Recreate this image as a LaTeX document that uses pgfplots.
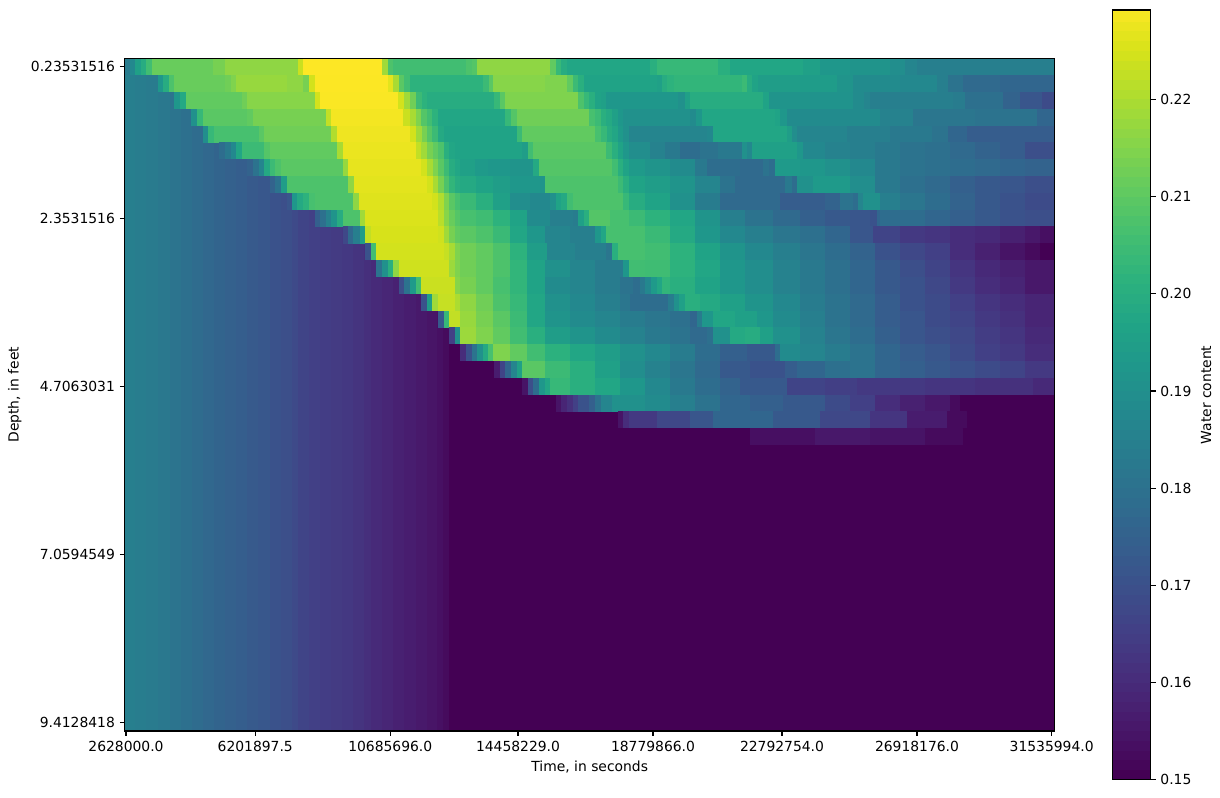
\documentclass[border=0pt]{standalone}
\usepackage{fontspec}
\setmainfont{DejaVu Sans}
\usepackage{pgfplots}
\pgfplotsset{compat=1.18}
% one thick mesh line per depth row: x (left edge of run), water content
\pgfplotsset{
  cell/.style={mesh, shader=flat corner, point meta=explicit, line width=12.3pt, line cap=butt, no markers, forget plot},
  common/.style={
    scale only axis, tick align=outside, major tick length=3.5pt,
    tick style={black, line width=0.8pt},
    axis line style={line width=0.8pt},
    axis on top,
    every tick label/.append style={font=\fontsize{10}{12}\selectfont},
    label style={font=\fontsize{10}{12}\selectfont},
    /pgf/number format/assume math mode=true,
    colormap/viridis,
    point meta min=0.15, point meta max=0.2292,
  },
}
\begin{document}
\begin{tikzpicture}
\path[use as bounding box] (-89.78pt,-48.2pt) rectangle (788.62pt,526.36pt);
\begin{axis}[
  common,
  at={(0pt,0pt)}, anchor=south west,
  width=669.6pt, height=484.3pt,
  xmin=124.7, xmax=1054.7, ymin=-39.5, ymax=0.5,
  xtick={126,255.3,390.3,518,653,782,917,1051.7},
  xticklabels={2628000.0,6201897.5,10685696.0,14458229.0,18779866.0,22792754.0,26918176.0,31535994.0},
  ytick={-39,-29,-19,-9,0},
  yticklabels={9.4128418,7.0594549,4.7063031,2.3531516,0.23531516},
  xlabel={Time, in seconds}, ylabel={Depth, in feet},
  xtick pos=bottom, ytick pos=left,
  table/meta index=1, table/header=false,
]
% rows 1 to 39 share this profile left of the wetting front
\addplot[cell, line width=472.4pt] table[y expr=-20]{
124.7 0.1838
135 0.1832
146 0.1825
158 0.1815
170 0.1803
181 0.1790
192 0.1778
203 0.1765
214 0.1752
225 0.1743
236 0.1733
247 0.1722
258 0.1712
270 0.1700
281 0.1690
292 0.1675
298 0.1660
309 0.1650
320 0.1642
331 0.1635
342 0.1628
353 0.1618
364 0.1605
371 0.1592
382 0.1582
393 0.1572
404 0.1562
416 0.1552
427 0.1542
437 0.1532
443 0.1520
449 0.1500
1054.7 0.1500
};
% row 0
\addplot[cell] table[y expr=0]{
124.7 0.183
129.7 0.187
135 0.195
140.7 0.199
146 0.205
152 0.211
213 0.213
225 0.216
298 0.223
303 0.2292
382 0.218
388 0.207
393 0.205
466 0.207
472 0.208
477 0.216
550 0.210
556 0.203
561 0.199
567 0.197
650 0.200
657 0.203
718 0.200
730 0.197
803 0.195
820 0.192
850 0.191
890 0.189
905 0.186
917 0.184
1054.7 0.184
};
% row 1
\addplot[cell] table[y expr=-1]{
158 0.192
163 0.199
169 0.207
174 0.211
225 0.212
231 0.214
236 0.217
287 0.216
303 0.213
309 0.224
315 0.229
388 0.226
393 0.219
399 0.209
404 0.205
410 0.201
483 0.204
489 0.209
493 0.215
545 0.214
567 0.210
573 0.204
578 0.200
584 0.196
657 0.195
662 0.199
667 0.201
674 0.202
742 0.204
747 0.199
752 0.196
758 0.194
800 0.1935
837 0.191
853 0.188
900 0.187
937 0.184
948 0.180
963 0.177
1000 0.176
1054.7 0.176
};
% row 2
\addplot[cell] table[y expr=-2]{
174 0.192
180 0.198
186 0.210
242 0.212
247 0.215
315 0.224
320 0.2288
398 0.224
404 0.218
410 0.212
416 0.204
422 0.201
427 0.199
494 0.203
500 0.209
505 0.214
578 0.207
584 0.203
589 0.200
595 0.196
601 0.195
606 0.192
678 0.190
685 0.195
690 0.199
763 0.196
769 0.191
810 0.1905
853 0.188
864 0.186
870 0.184
953 0.183
965 0.179
1003 0.175
1020 0.171
1042 0.168
1054.7 0.168
};
% row 3
\addplot[cell] table[y expr=-3]{
191 0.190
197 0.203
203 0.209
247 0.210
253 0.213
326 0.222
331 0.228
403 0.223
410 0.219
416 0.214
421 0.208
427 0.205
432 0.201
438 0.197
505 0.203
511 0.208
517 0.212
589 0.206
595 0.204
601 0.200
606 0.198
612 0.195
618 0.192
623 0.190
690 0.188
696 0.192
702 0.197
775 0.196
780 0.192
787 0.188
880 0.185
913 0.181
975 0.180
1037 0.176
1054.7 0.176
};
% row 4
\addplot[cell] table[y expr=-4]{
203 0.189
208 0.203
214 0.206
259 0.209
264 0.212
331 0.220
337 0.2275
410 0.224
416 0.218
422 0.213
427 0.208
432 0.204
438 0.198
444 0.196
517 0.204
522 0.210
595 0.206
601 0.203
607 0.199
612 0.197
618 0.193
623 0.190
629 0.186
707 0.187
713 0.197
787 0.194
792 0.189
797 0.186
847 0.184
890 0.182
932 0.180
948 0.176
967 0.173
1054.7 0.173
};
% row 5
\addplot[cell] table[y expr=-5]{
219 0.178
225 0.182
231 0.187
236 0.197
242 0.204
264 0.208
270 0.210
337 0.219
343 0.227
416 0.222
421 0.218
427 0.213
433 0.210
438 0.207
444 0.200
449 0.197
455 0.196
522 0.194
528 0.205
533 0.209
606 0.204
612 0.200
618 0.196
623 0.192
629 0.189
650 0.185
665 0.182
680 0.178
700 0.180
718 0.182
742 0.190
747 0.187
752 0.195
797 0.192
803 0.187
825 0.185
850 0.184
875 0.182
900 0.180
925 0.179
950 0.177
975 0.175
1000 0.173
1025 0.169
1054.7 0.169
};
% row 6
\addplot[cell] table[y expr=-6]{
247 0.175
253 0.180
259 0.186
264 0.198
270 0.204
275 0.207
281 0.209
343 0.217
348 0.2265
421 0.224
427 0.219
433 0.214
438 0.209
444 0.204
449 0.199
455 0.197
460 0.195
475 0.193
488 0.192
510 0.191
533 0.198
539 0.208
612 0.205
618 0.200
623 0.196
629 0.193
645 0.191
670 0.188
695 0.182
707 0.178
740 0.177
763 0.180
769 0.178
775 0.193
800 0.192
825 0.190
850 0.187
875 0.182
900 0.180
925 0.179
950 0.178
975 0.177
1000 0.176
1025 0.175
1054.7 0.175
};
% row 7
\addplot[cell] table[y expr=-7]{
270 0.175
275 0.180
281 0.194
287 0.207
348 0.216
354 0.226
427 0.224
433 0.219
438 0.213
444 0.207
449 0.202
455 0.199
460 0.198
476 0.196
493 0.194
510 0.192
540 0.191
545 0.207
618 0.204
623 0.200
629 0.196
645 0.194
670 0.191
695 0.186
720 0.180
735 0.177
785 0.182
792 0.178
797 0.190
813 0.193
850 0.189
875 0.182
900 0.179
925 0.177
950 0.174
975 0.172
1000 0.171
1025 0.169
1054.7 0.169
};
% row 8
\addplot[cell] table[y expr=-8]{
287 0.171
292 0.192
297 0.198
303 0.201
309 0.206
315 0.207
353 0.216
359 0.2255
432 0.224
438 0.220
444 0.214
449 0.209
455 0.206
460 0.2035
476 0.200
493 0.195
510 0.189
530 0.187
550 0.190
556 0.196
561 0.198
567 0.205
573 0.207
623 0.203
629 0.199
645 0.196
670 0.190
695 0.183
720 0.177
780 0.173
825 0.175
840 0.180
853 0.178
858 0.186
863 0.190
880 0.184
900 0.181
925 0.178
950 0.175
975 0.172
1000 0.170
1025 0.168
1054.7 0.168
};
% row 9
\addplot[cell] table[y expr=-9]{
315 0.174
320 0.179
326 0.185
331 0.191
337 0.199
343 0.207
360 0.218
365 0.225
438 0.221
444 0.215
449 0.211
455 0.208
460 0.206
476 0.2045
493 0.201
510 0.196
527 0.188
550 0.184
573 0.183
578 0.195
584 0.200
589 0.208
610 0.206
629 0.204
645 0.201
670 0.197
695 0.191
720 0.184
745 0.180
773 0.177
800 0.174
825 0.172
850 0.171
870 0.170
877 0.176
880 0.178
925 0.176
950 0.174
975 0.172
1000 0.170
1025 0.169
1054.7 0.169
};
% row 10
\addplot[cell] table[y expr=-10]{
343 0.167
348 0.177
353 0.184
360 0.194
365 0.222
371 0.2245
438 0.2235
444 0.218
449 0.213
455 0.210
460 0.209
476 0.207
493 0.2035
510 0.197
527 0.192
545 0.186
570 0.184
595 0.192
601 0.197
606 0.206
645 0.2035
670 0.198
695 0.192
720 0.187
745 0.184
773 0.181
800 0.179
825 0.176
850 0.171
873 0.166
900 0.163
925 0.162
950 0.160
975 0.159
1000 0.157
1025 0.155
1040 0.153
1054.7 0.153
};
% row 11
\addplot[cell] table[y expr=-11]{
365 0.170
371 0.205
376 0.224
444 0.2225
449 0.219
455 0.214
460 0.212
476 0.210
493 0.207
510 0.201
527 0.194
547 0.186
575 0.184
606 0.181
612 0.200
618 0.206
645 0.205
670 0.201
695 0.196
720 0.191
745 0.187
773 0.184
800 0.181
825 0.178
850 0.175
875 0.170
900 0.167
925 0.165
950 0.160
975 0.157
1000 0.154
1025 0.152
1040 0.150
1054.7 0.150
};
% row 12
\addplot[cell] table[y expr=-12]{
376 0.180
382 0.190
388 0.200
393 0.216
399 0.2235
449 0.2175
455 0.214
460 0.212
476 0.210
493 0.207
510 0.202
527 0.196
545 0.190
570 0.186
595 0.183
623 0.192
629 0.205
645 0.2045
670 0.201
695 0.197
720 0.192
745 0.189
773 0.185
800 0.182
825 0.179
850 0.176
875 0.172
900 0.169
925 0.166
950 0.162
975 0.159
1000 0.157
1025 0.155
1054.7 0.155
};
% row 13
\addplot[cell] table[y expr=-13]{
399 0.169
404 0.180
410 0.193
416 0.205
421 0.223
455 0.215
460 0.213
476 0.210
493 0.206
510 0.202
527 0.196
545 0.188
570 0.186
595 0.183
620 0.180
633 0.178
640 0.182
645 0.187
651 0.193
657 0.197
662 0.202
670 0.200
695 0.196
720 0.192
745 0.189
773 0.185
800 0.182
825 0.179
850 0.176
875 0.172
900 0.170
925 0.167
950 0.163
975 0.160
1000 0.158
1025 0.155
1054.7 0.155
};
% row 14
\addplot[cell] table[y expr=-14]{
421 0.170
427 0.194
432 0.218
438 0.2225
455 0.2195
460 0.216
476 0.212
493 0.207
510 0.203
527 0.197
545 0.190
570 0.187
595 0.184
620 0.181
630 0.178
650 0.178
668 0.183
674 0.190
679 0.195
685 0.200
700 0.198
720 0.195
745 0.191
773 0.187
800 0.183
825 0.180
850 0.177
875 0.173
900 0.170
925 0.168
950 0.165
975 0.162
1000 0.160
1025 0.158
1054.7 0.158
};
% row 15
\addplot[cell] table[y expr=-15]{
438 0.172
444 0.203
449 0.222
460 0.217
476 0.213
493 0.209
510 0.204
527 0.197
545 0.191
570 0.188
595 0.186
620 0.183
645 0.181
670 0.179
690 0.176
697 0.183
702 0.192
713 0.197
735 0.195
757 0.192
773 0.188
800 0.184
825 0.180
850 0.177
875 0.173
900 0.171
925 0.168
950 0.166
975 0.163
1000 0.161
1025 0.158
1054.7 0.158
};
% row 16
\addplot[cell] table[y expr=-16]{
449 0.165
455 0.190
460 0.2175
476 0.214
493 0.210
510 0.205
527 0.200
545 0.194
570 0.191
595 0.188
620 0.185
645 0.182
670 0.180
690 0.177
707 0.179
713 0.190
730 0.198
745 0.199
760 0.195
773 0.190
800 0.185
825 0.181
850 0.178
875 0.174
900 0.171
925 0.169
950 0.167
975 0.164
1000 0.162
1025 0.159
1054.7 0.159
};
% row 17
\addplot[cell] table[y expr=-17]{
460 0.160
466 0.170
472 0.180
477 0.190
483 0.198
488 0.206
493 0.214
510 0.210
527 0.205
545 0.2005
570 0.197
595 0.194
620 0.190
645 0.187
670 0.183
695 0.178
720 0.174
747 0.172
775 0.178
780 0.188
800 0.186
825 0.183
850 0.180
875 0.176
900 0.173
925 0.171
950 0.168
975 0.165
1000 0.163
1025 0.160
1054.7 0.160
};
% row 18
\addplot[cell] table[y expr=-18]{
494 0.156
500 0.166
505 0.176
511 0.186
517 0.195
522 0.209
545 0.204
570 0.200
595 0.195
620 0.189
645 0.185
670 0.181
695 0.177
720 0.172
750 0.170
785 0.173
797 0.176
825 0.179
850 0.180
875 0.176
900 0.174
925 0.172
950 0.170
975 0.168
1000 0.166
1025 0.163
1054.7 0.163
};
% row 19
\addplot[cell] table[y expr=-19]{
522 0.154
528 0.169
533 0.178
539 0.192
545 0.197
550 0.203
570 0.200
595 0.197
620 0.192
645 0.187
670 0.182
695 0.178
720 0.175
740 0.172
787 0.166
825 0.1645
857 0.163
925 0.162
975 0.161
1033 0.159
1054.7 0.159
};
% row 20
\addplot[cell] table[y expr=-20]{
556 0.154
561 0.158
567 0.161
573 0.165
578 0.170
589 0.174
595 0.180
601 0.186
612 0.190
645 0.188
670 0.184
695 0.180
720 0.176
750 0.174
783 0.172
825 0.168
850 0.165
875 0.160
900 0.157
925 0.155
950 0.152
960 0.150
1054.7 0.150
};
% row 21
\addplot[cell] table[y expr=-21]{
618 0.154
623 0.160
629 0.163
657 0.167
690 0.171
713 0.176
773 0.172
820 0.167
870 0.162
907 0.156
947 0.152
967 0.150
1054.7 0.150
};
% row 22
\addplot[cell] table[y expr=-22]{
750 0.153
815 0.155
870 0.154
925 0.152
963 0.150
1054.7 0.150
};
\end{axis}
% colour bar as its own axis, one thick vertical mesh line
\begin{axis}[
  common,
  at={(711.07pt,-35.06pt)}, anchor=south west,
  width=27.65pt, height=554.2pt,
  xmin=0, xmax=1, ymin=0.15, ymax=0.2292,
  xtick=\empty,
  ytick={0.15,0.16,0.17,0.18,0.19,0.20,0.21,0.22},
  ytick pos=right, yticklabel pos=right,
  yticklabel style={/pgf/number format/fixed, /pgf/number format/fixed zerofill, /pgf/number format/precision=2},
  ylabel={Water content}, ylabel near ticks,
]
\addplot[mesh, shader=flat corner, point meta=y, line width=28pt, line cap=butt, no markers, forget plot] coordinates {
(0.5,0.150)(0.5,0.151)(0.5,0.152)(0.5,0.153)(0.5,0.154)(0.5,0.155)(0.5,0.156)(0.5,0.157)(0.5,0.158)(0.5,0.159)
(0.5,0.160)(0.5,0.161)(0.5,0.162)(0.5,0.163)(0.5,0.164)(0.5,0.165)(0.5,0.166)(0.5,0.167)(0.5,0.168)(0.5,0.169)
(0.5,0.170)(0.5,0.171)(0.5,0.172)(0.5,0.173)(0.5,0.174)(0.5,0.175)(0.5,0.176)(0.5,0.177)(0.5,0.178)(0.5,0.179)
(0.5,0.180)(0.5,0.181)(0.5,0.182)(0.5,0.183)(0.5,0.184)(0.5,0.185)(0.5,0.186)(0.5,0.187)(0.5,0.188)(0.5,0.189)
(0.5,0.190)(0.5,0.191)(0.5,0.192)(0.5,0.193)(0.5,0.194)(0.5,0.195)(0.5,0.196)(0.5,0.197)(0.5,0.198)(0.5,0.199)
(0.5,0.200)(0.5,0.201)(0.5,0.202)(0.5,0.203)(0.5,0.204)(0.5,0.205)(0.5,0.206)(0.5,0.207)(0.5,0.208)(0.5,0.209)
(0.5,0.210)(0.5,0.211)(0.5,0.212)(0.5,0.213)(0.5,0.214)(0.5,0.215)(0.5,0.216)(0.5,0.217)(0.5,0.218)(0.5,0.219)
(0.5,0.220)(0.5,0.221)(0.5,0.222)(0.5,0.223)(0.5,0.224)(0.5,0.225)(0.5,0.226)(0.5,0.227)(0.5,0.228)(0.5,0.229)(0.5,0.2292)
};
\end{axis}
\end{tikzpicture}
\end{document}
